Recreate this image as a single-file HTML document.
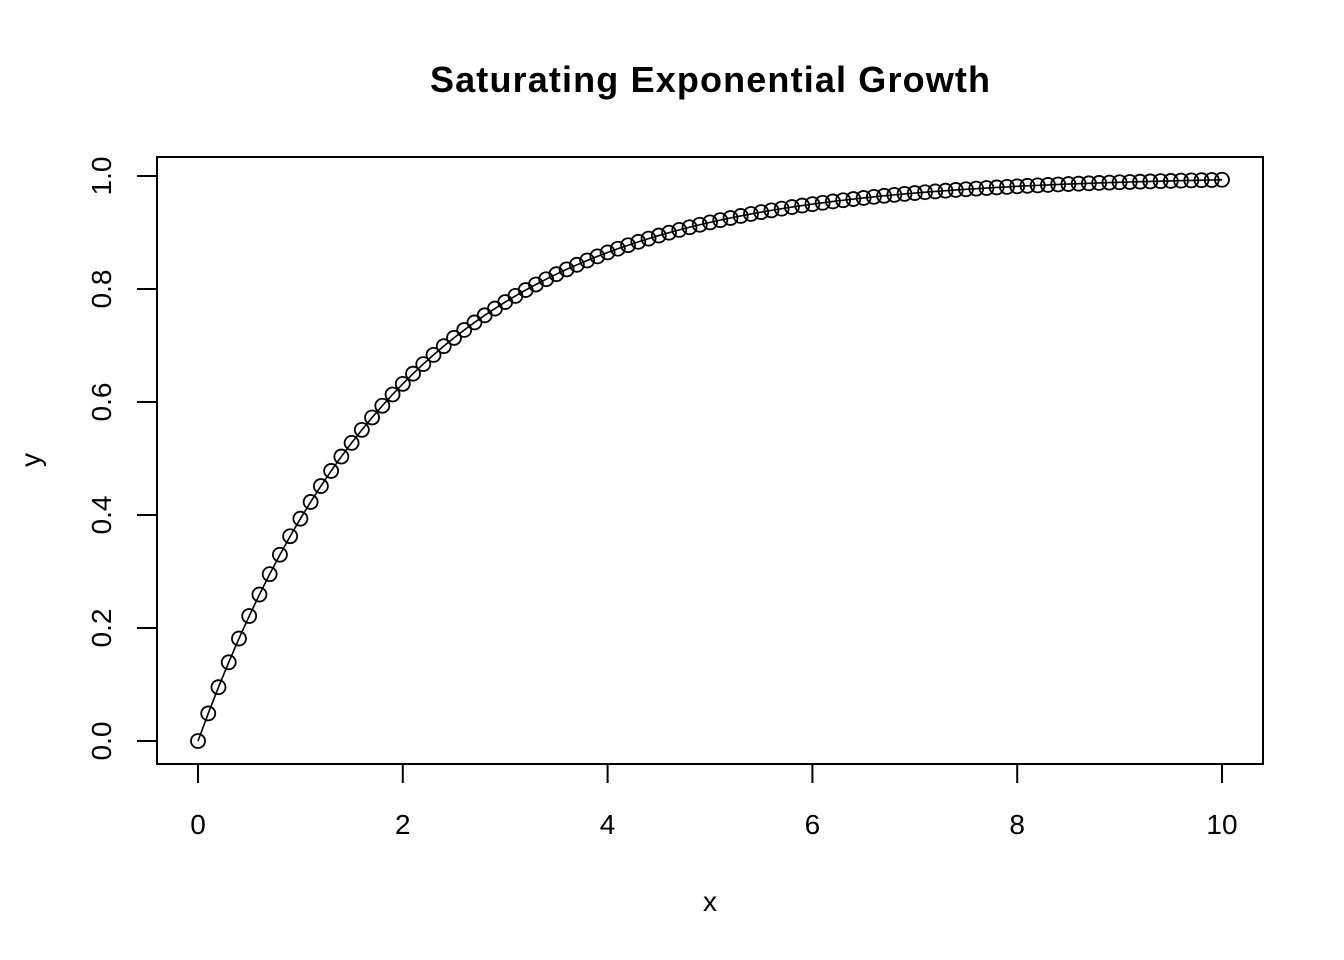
<!DOCTYPE html>
<html><head><meta charset="utf-8"><style>
html,body{margin:0;padding:0;background:#fff;}
svg{display:block;font-family:"Liberation Sans",Arial,sans-serif;}
</style></head><body>
<svg id="chart" width="1344" height="960" viewBox="0 0 1344 960">
<text x="710" y="92" text-anchor="middle" font-size="36" font-weight="bold" textLength="560">Saturating Exponential Growth</text>
<rect x="157" y="157" width="1106" height="607" fill="none" stroke="#000" stroke-width="2"/>
<g id="xaxis"></g>
<g id="yaxis"></g>
<text x="710" y="911" text-anchor="middle" font-size="28">x</text>
<text transform="translate(40,460) rotate(-90)" text-anchor="middle" font-size="28">y</text>
<g id="series"></g>
</svg>
<script>
const xTicks=[0,2,4,6,8,10];
const yTicks=[0,0.2,0.4,0.6,0.8,1.0];
const yTickLabels=["0.0","0.2","0.4","0.6","0.8","1.0"];
const xs=[0,0.1,0.2,0.3,0.4,0.5,0.6,0.7,0.8,0.9,1,1.1,1.2,1.3,1.4,1.5,1.6,1.7,1.8,1.9,2,2.1,2.2,2.3,2.4,2.5,2.6,2.7,2.8,2.9,3,3.1,3.2,3.3,3.4,3.5,3.6,3.7,3.8,3.9,4,4.1,4.2,4.3,4.4,4.5,4.6,4.7,4.8,4.9,5,5.1,5.2,5.3,5.4,5.5,5.6,5.7,5.8,5.9,6,6.1,6.2,6.3,6.4,6.5,6.6,6.7,6.8,6.9,7,7.1,7.2,7.3,7.4,7.5,7.6,7.7,7.8,7.9,8,8.1,8.2,8.3,8.4,8.5,8.6,8.7,8.8,8.9,9,9.1,9.2,9.3,9.4,9.5,9.6,9.7,9.8,9.9,10];
const ys=[0,0.0488,0.0952,0.1393,0.1813,0.2212,0.2592,0.2953,0.3297,0.3624,0.3935,0.4231,0.4512,0.4780,0.5034,0.5276,0.5507,0.5726,0.5934,0.6133,0.6321,0.6501,0.6671,0.6834,0.6988,0.7135,0.7275,0.7408,0.7534,0.7654,0.7769,0.7878,0.7981,0.8080,0.8173,0.8262,0.8347,0.8428,0.8504,0.8577,0.8647,0.8713,0.8775,0.8835,0.8892,0.8946,0.8997,0.9046,0.9093,0.9137,0.9179,0.9219,0.9257,0.9293,0.9328,0.9361,0.9392,0.9422,0.9450,0.9477,0.9502,0.9526,0.9550,0.9571,0.9592,0.9612,0.9631,0.9649,0.9666,0.9683,0.9698,0.9713,0.9727,0.9740,0.9753,0.9765,0.9776,0.9787,0.9798,0.9807,0.9817,0.9826,0.9834,0.9842,0.9850,0.9857,0.9864,0.9871,0.9877,0.9883,0.9889,0.9894,0.9899,0.9904,0.9909,0.9913,0.9918,0.9922,0.9926,0.9929,0.9933];

const NS="http://www.w3.org/2000/svg";
function sx(v){return 198+v*102.4;}
function sy(v){return 741-v*565;}
function mk(tag,attrs,parent){const e=document.createElementNS(NS,tag);for(const k in attrs)e.setAttribute(k,attrs[k]);parent.appendChild(e);return e;}

const xg=document.getElementById('xaxis');
xTicks.forEach(t=>{
  const l=mk('line',{x1:sx(t),x2:sx(t),y1:764,y2:783,stroke:'#000','stroke-width':2},xg);
  
  
  const tx=mk('text',{x:sx(t),y:834,'text-anchor':'middle','font-size':28},xg);
  tx.textContent=String(t);
  
  
});
const yg=document.getElementById('yaxis');
yTicks.forEach((t,i)=>{
  const l=mk('line',{x1:137,x2:157,y1:sy(t),y2:sy(t),stroke:'#000','stroke-width':2},yg);
  
  
  const tx=mk('text',{transform:'translate(111,'+sy(t)+') rotate(-90)','text-anchor':'middle','font-size':28},yg);
  tx.textContent=yTickLabels[i];
  
  
});
const sg=document.getElementById('series');
const pts=xs.map((x,i)=>sx(x)+','+sy(ys[i])).join(' ');
const pl=mk('polyline',{points:pts,fill:'none',stroke:'#000','stroke-width':1.6},sg);


xs.forEach((x,i)=>{
  const c=mk('circle',{cx:sx(x),cy:sy(ys[i]),r:7,fill:'none',stroke:'#000','stroke-width':1.8},sg);
  
  
});
</script>
</body></html>
